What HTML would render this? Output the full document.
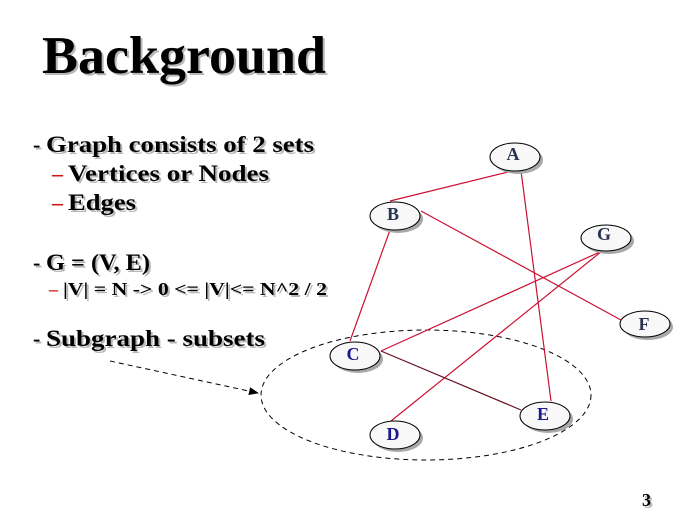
<!DOCTYPE html>
<html>
<head>
<meta charset="utf-8">
<style>
  html,body{margin:0;padding:0;background:#fff;}
  svg{display:block;}
  .t{font-family:"Liberation Serif",serif;font-weight:bold;}
</style>
</head>
<body>
<svg width="680" height="510" viewBox="0 0 680 510" xmlns="http://www.w3.org/2000/svg">
  <defs>
    <marker id="ah" markerWidth="10" markerHeight="8" refX="9" refY="4" orient="auto" markerUnits="userSpaceOnUse">
      <path d="M0,0 L10,4 L0,8 z" fill="#000"/>
    </marker>
  </defs>

  <!-- Title -->
  <text class="t" x="44" y="75" font-size="53" fill="#b8b8b8" textLength="284" lengthAdjust="spacingAndGlyphs">Background</text>
  <text class="t" x="42" y="73" font-size="53" fill="#000" textLength="284" lengthAdjust="spacingAndGlyphs">Background</text>

  <!-- Bullets (shadow) -->
  <g fill="#b8b8b8" class="t">
    <text x="35" y="154" font-size="22">-</text>
    <text x="48" y="154" font-size="23" textLength="268" lengthAdjust="spacingAndGlyphs">Graph consists of 2 sets</text>
    <text x="70" y="183" font-size="23" textLength="201" lengthAdjust="spacingAndGlyphs">Vertices or Nodes</text>
    <text x="70" y="212" font-size="23" textLength="68" lengthAdjust="spacingAndGlyphs">Edges</text>
    <text x="35" y="272" font-size="22">-</text>
    <text x="48" y="272" font-size="23" textLength="104" lengthAdjust="spacingAndGlyphs">G = (V, E)</text>
    <text x="65" y="297" font-size="18" textLength="264" lengthAdjust="spacingAndGlyphs">|V| = N -&gt; 0 &lt;= |V|&lt;= N^2 / 2</text>
    <text x="35" y="348" font-size="22">-</text>
    <text x="48" y="348" font-size="23" textLength="219" lengthAdjust="spacingAndGlyphs">Subgraph - subsets</text>
  </g>
  <!-- Bullets -->
  <g class="t">
    <text x="33" y="152" font-size="22" fill="#000">-</text>
    <text x="46" y="152" font-size="23" fill="#000" textLength="268" lengthAdjust="spacingAndGlyphs">Graph consists of 2 sets</text>
    <text x="52" y="181" font-size="22" fill="#cc1a1a">–</text>
    <text x="68" y="181" font-size="23" fill="#000" textLength="201" lengthAdjust="spacingAndGlyphs">Vertices or Nodes</text>
    <text x="52" y="210" font-size="22" fill="#cc1a1a">–</text>
    <text x="68" y="210" font-size="23" fill="#000" textLength="68" lengthAdjust="spacingAndGlyphs">Edges</text>
    <text x="33" y="270" font-size="22" fill="#000">-</text>
    <text x="46" y="270" font-size="23" fill="#000" textLength="104" lengthAdjust="spacingAndGlyphs">G = (V, E)</text>
    <text x="49" y="295" font-size="18" fill="#cc1a1a">–</text>
    <text x="63" y="295" font-size="18" fill="#000" textLength="264" lengthAdjust="spacingAndGlyphs">|V| = N -&gt; 0 &lt;= |V|&lt;= N^2 / 2</text>
    <text x="33" y="346" font-size="22" fill="#000">-</text>
    <text x="46" y="346" font-size="23" fill="#000" textLength="219" lengthAdjust="spacingAndGlyphs">Subgraph - subsets</text>
  </g>

  <!-- Dashed subgraph ellipse -->
  <ellipse cx="426" cy="395" rx="165" ry="65" fill="none" stroke="#000" stroke-width="1" stroke-dasharray="5,4"/>
  <!-- Dashed arrow -->
  <line x1="110" y1="361" x2="258" y2="393" stroke="#000" stroke-width="1" stroke-dasharray="5,4" marker-end="url(#ah)"/>

  <!-- Edges -->
  <g stroke="#cc1133" stroke-width="1.2" fill="none">
    <line x1="390" y1="201" x2="512" y2="171"/>
    <line x1="521" y1="171" x2="551" y2="401"/>
    <line x1="421" y1="211" x2="621" y2="320"/>
    <line x1="390" y1="230" x2="350" y2="341"/>
    <line x1="602" y1="251" x2="381" y2="351"/>
    <line x1="602" y1="251" x2="391" y2="421"/>
  </g>
  <line x1="381" y1="351" x2="521" y2="410" stroke="#661122" stroke-width="1.2"/>

  <!-- Nodes -->
  <g>
    <!-- shadows -->
    <g fill="#a8a8a8">
      <ellipse cx="518" cy="160" rx="25" ry="14"/>
      <ellipse cx="398" cy="219" rx="25" ry="14"/>
      <ellipse cx="609" cy="241" rx="25" ry="13"/>
      <ellipse cx="648" cy="327" rx="25" ry="13"/>
      <ellipse cx="358" cy="359" rx="25" ry="14"/>
      <ellipse cx="398" cy="438" rx="25" ry="14"/>
      <ellipse cx="548" cy="419" rx="25" ry="14"/>
    </g>
    <g fill="#f8f8f8" stroke="#000" stroke-width="1">
      <ellipse cx="515" cy="157" rx="25" ry="14"/>
      <ellipse cx="395" cy="216" rx="25" ry="14"/>
      <ellipse cx="606" cy="238" rx="25" ry="13"/>
      <ellipse cx="645" cy="324" rx="25" ry="13"/>
      <ellipse cx="355" cy="356" rx="25" ry="14"/>
      <ellipse cx="395" cy="435" rx="25" ry="14"/>
      <ellipse cx="545" cy="416" rx="25" ry="14"/>
    </g>
    <g class="t" font-size="18" text-anchor="middle">
      <text x="513" y="160" fill="#2a3450">A</text>
      <text x="393" y="220" fill="#2a3450">B</text>
      <text x="604" y="240" fill="#2a3450">G</text>
      <text x="644" y="330" fill="#2a3450">F</text>
      <text x="353" y="360" fill="#1a1a8a">C</text>
      <text x="393" y="440" fill="#1a1a8a">D</text>
      <text x="543" y="420" fill="#1a1a8a">E</text>
    </g>
  </g>

  <!-- Page number -->
  <text class="t" x="644" y="508" font-size="18" fill="#b8b8b8">3</text>
  <text class="t" x="642" y="506" font-size="18" fill="#000">3</text>
</svg>
</body>
</html>
